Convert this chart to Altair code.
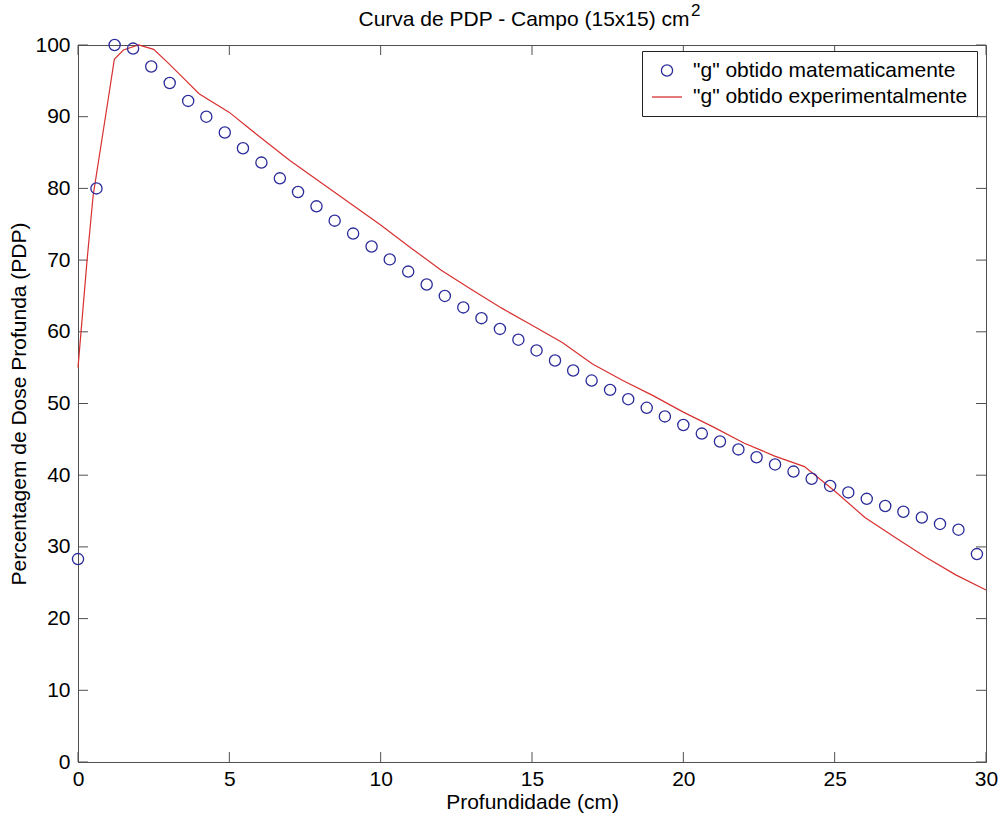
import altair as alt
import pandas as pd

# Percentage depth dose, 15x15 cm^2 field
depth_calc = [0.00, 0.61, 1.21, 1.82, 2.42, 3.03, 3.64, 4.24, 4.85, 5.45,
              6.06, 6.67, 7.27, 7.88, 8.48, 9.09, 9.70, 10.30, 10.91, 11.52,
              12.12, 12.73, 13.33, 13.94, 14.55, 15.15, 15.76, 16.36, 16.97, 17.58,
              18.18, 18.79, 19.39, 20.00, 20.61, 21.21, 21.82, 22.42, 23.03, 23.64,
              24.24, 24.85, 25.45, 26.06, 26.67, 27.27, 27.88, 28.48, 29.09, 29.70]
pdp_calc = [28.3, 80.0, 100.0, 99.5, 97.0, 94.7, 92.2, 90.0, 87.8, 85.6,
            83.6, 81.4, 79.5, 77.5, 75.5, 73.7, 71.9, 70.1, 68.4, 66.6,
            65.0, 63.4, 61.9, 60.4, 58.9, 57.4, 56.0, 54.6, 53.2, 51.9,
            50.6, 49.4, 48.2, 47.0, 45.8, 44.7, 43.6, 42.5, 41.5, 40.5,
            39.5, 38.5, 37.6, 36.7, 35.7, 34.9, 34.1, 33.2, 32.4, 29.0]

depth_meas = [0.0, 0.3, 0.5, 1.0, 1.2, 1.5, 2.0, 2.5, 3.0, 3.5, 4.0,
              5.0, 6.0, 7.0, 8.0, 9.0, 10.0, 11.0, 12.0, 13.0, 14.0,
              15.0, 16.0, 17.0, 18.0, 19.0, 20.0, 21.0, 22.0, 23.0, 24.0,
              25.0, 26.0, 27.0, 28.0, 29.0, 30.0]
pdp_meas = [55.0, 70.0, 79.0, 92.5, 98.0, 99.3, 100.0, 99.4, 97.4, 95.3, 93.2,
            90.6, 87.2, 83.9, 80.9, 77.9, 74.9, 71.7, 68.6, 65.9, 63.3,
            60.9, 58.5, 55.5, 53.2, 51.1, 48.8, 46.7, 44.5, 42.7, 41.2,
            37.8, 34.1, 31.3, 28.6, 26.1, 24.0]

x_ticks = [0, 5, 10, 15, 20, 25, 30]
y_ticks = [0, 10, 20, 30, 40, 50, 60, 70, 80, 90, 100]

LABEL_CALC = '"g" obtido matematicamente'
LABEL_MEAS = '"g" obtido experimentalmente'
series = [LABEL_CALC, LABEL_MEAS]

TITLE = ["Curva de PDP - Campo (15x15) cm"]
TITLE_EXP = ["2"]

FONT = "Liberation Sans"
AXIS_COLOR = "#505050"
W, H = 908, 717

calc = pd.DataFrame({"depth": depth_calc, "pdp": pdp_calc, "serie": LABEL_CALC})
meas = pd.DataFrame({"depth": depth_meas, "pdp": pdp_meas, "serie": LABEL_MEAS})
xt = pd.DataFrame({"depth": x_ticks})
yt = pd.DataFrame({"pdp": y_ticks})

x_scale = alt.Scale(domain=[0, 30], nice=False, zero=False)
y_scale = alt.Scale(domain=[0, 100], nice=False)

x_axis = alt.Axis(values=x_ticks, format="d", ticks=False, grid=False,
                  labelPadding=6, labelFlush=False, labelOverlap=False,
                  titleBaseline="middle", titleY=40)
y_axis = alt.Axis(values=y_ticks, format="d", ticks=False, grid=False,
                  labelPadding=8, labelFlush=False, labelOverlap=False,
                  titleBaseline="middle", titleX=-59, titleY=H / 2)

X = alt.X("depth:Q", scale=x_scale, axis=x_axis, title="Profundidade (cm)")
Y = alt.Y("pdp:Q", scale=y_scale, axis=y_axis, title="Percentagem de Dose Profunda (PDP)")

legend = alt.Legend(title=None, orient="none", legendX=564, legendY=6,
                    padding=9, fillColor="white", strokeColor="#222222",
                    labelFont=FONT, labelFontSize=21, labelColor="black",
                    labelOffset=10, labelLimit=500, rowPadding=0,
                    symbolStrokeWidth=1.3)

color = alt.Color("serie:N", legend=legend,
                  scale=alt.Scale(domain=series, range=["#2a2a9a", "#d83030"]))
shape = alt.Shape("serie:N", legend=legend,
                  scale=alt.Scale(domain=series, range=["circle", "stroke"]))
size = alt.Size("serie:N", legend=legend,
                scale=alt.Scale(type="ordinal", domain=series, range=[125, 900]))

# inward tick marks on all four sides of the box
ticks_left = alt.Chart(yt).mark_rule(color=AXIS_COLOR, strokeWidth=1).encode(
    y=Y, x=alt.value(0), x2=alt.value(10))
ticks_right = alt.Chart(yt).mark_rule(color=AXIS_COLOR, strokeWidth=1).encode(
    y=Y, x=alt.value(W - 10), x2=alt.value(W))
ticks_bottom = alt.Chart(xt).mark_rule(color=AXIS_COLOR, strokeWidth=1).encode(
    x=X, y=alt.value(H - 10), y2=alt.value(H))
ticks_top = alt.Chart(xt).mark_rule(color=AXIS_COLOR, strokeWidth=1).encode(
    x=X, y=alt.value(0), y2=alt.value(10))

line = alt.Chart(meas).mark_line(strokeWidth=1.2).encode(x=X, y=Y, color=color)
points = alt.Chart(calc).mark_point(filled=False, strokeWidth=1.3, opacity=1).encode(
    x=X, y=Y, color=color, shape=shape, size=size)

# chart title with a raised exponent on the unit (cm^2)
title = alt.Chart(pd.DataFrame({"t": TITLE})).mark_text(
    font=FONT, fontSize=21, color="black", align="center", baseline="alphabetic"
).encode(text="t:N", x=alt.value(446), y=alt.value(-19))
exponent = alt.Chart(pd.DataFrame({"t": TITLE_EXP})).mark_text(
    font=FONT, fontSize=17, color="black", align="left", baseline="alphabetic"
).encode(text="t:N", x=alt.value(613), y=alt.value(-29))

chart = alt.layer(ticks_left, ticks_right, ticks_bottom, ticks_top, line, points,
                  title, exponent).properties(
    width=W, height=H,
    padding={"left": 78, "top": 45, "right": 17, "bottom": 59},
    autosize=alt.AutoSizeParams(type="none"),
    background="white",
).configure_view(
    stroke=AXIS_COLOR, strokeWidth=1
).configure_axis(
    labelFont=FONT, labelFontSize=21, labelColor="black",
    titleFont=FONT, titleFontSize=21, titleFontWeight="normal", titleColor="black",
    domainColor=AXIS_COLOR, domainWidth=1,
)

chart.save("out.html", embed_options={"renderer": "svg", "actions": False})
